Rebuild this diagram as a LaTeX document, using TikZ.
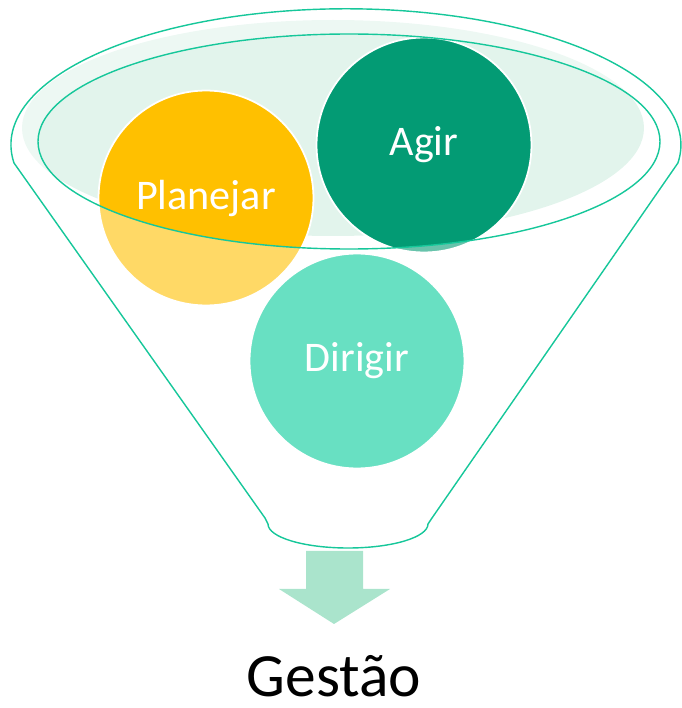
\documentclass[tikz,border=0pt]{standalone}
\usepackage{fontspec}
\setmainfont{Carlito}
\usetikzlibrary{positioning}

\definecolor{rimline}{RGB}{22,199,154}
\definecolor{mouthfill}{RGB}{226,244,236}
\definecolor{planejarcol}{RGB}{255,192,0}
\definecolor{agircol}{RGB}{3,155,116}
\definecolor{dirigircol}{RGB}{104,224,194}
\definecolor{arrowcol}{RGB}{170,228,204}

\newcommand{\funnelpath}{(265,190) -- (14,545)
  arc[start angle=187.7,end angle=-7.7,x radius=335,y radius=136]
  -- (432,190) -- (428,184)
  arc[start angle=0,end angle=-180,x radius=80,y radius=24]
  -- cycle}

\begin{document}
\begin{tikzpicture}[x=0.02cm,y=0.02cm,
                    every node/.style={font=\fontsize{24}{28}\selectfont}]
  \tikzstyle{ball}=[circle,draw=white,line width=1pt,text=white,
                    minimum size=4.3cm,inner sep=0pt]
  \tikzstyle{rim}=[draw=rimline,line width=0.8pt]

  \useasboundingbox (0,0) rectangle (682,708);

  \fill[mouthfill] (333,580) ellipse [x radius=311,y radius=108];

  \node[ball,fill=planejarcol] (P) at (206,510) {Planejar};
  \node[ball,fill=agircol]     (A) at (424,563) {Agir};

  % funnel body lightens what lies below the mouth
  \fill[white,fill opacity=0.4,even odd rule] \funnelpath
       (349,566.5) ellipse [x radius=311,y radius=107.5];

  \node[ball,fill=dirigircol]  (D) at (357,347) {Dirigir};

  \draw[rim] \funnelpath;
  \draw[rim] (349,566.5) ellipse [x radius=311,y radius=107.5];

  \fill[arrowcol] (306,157) -- (363,157) -- (363,119) -- (390,119)
        -- (334,84) -- (279,119) -- (306,119) -- cycle;

  \node[font=\fontsize{35}{40}\selectfont,anchor=base,inner sep=0pt] (G) at (334,11) {Gestão};
\end{tikzpicture}
\end{document}
